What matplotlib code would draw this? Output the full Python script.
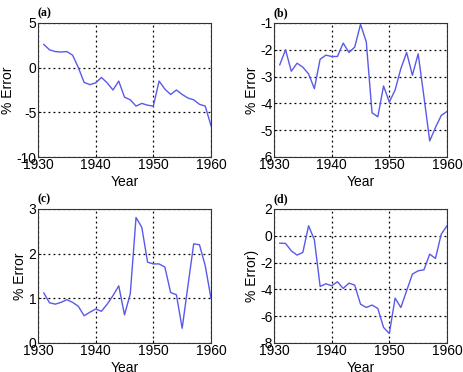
import matplotlib
matplotlib.use("Agg")
import matplotlib.pyplot as plt

years = list(range(1931, 1961))

err_a = [2.6, 2.0, 1.8, 1.75, 1.8, 1.4, 0.0, -1.65, -1.9, -1.7, -1.1, -1.7, -2.5, -1.5, -3.3,
         -3.6, -4.3, -4.0, -4.2, -4.3, -1.5, -2.4, -3.0, -2.5, -3.0, -3.4, -3.6, -4.1, -4.3, -6.5]
err_b = [-2.56, -2.0, -2.8, -2.5, -2.65, -2.9, -3.45, -2.35, -2.2, -2.25, -2.25, -1.75, -2.1, -1.9, -1.05,
         -1.7, -4.35, -4.5, -3.35, -3.95, -3.5, -2.7, -2.1, -2.95, -2.15, -3.75, -5.4, -4.9, -4.45, -4.3]
err_c = [1.12, 0.9, 0.87, 0.91, 0.97, 0.91, 0.82, 0.61, 0.69, 0.76, 0.71, 0.87, 1.06, 1.28, 0.63,
         1.1, 2.81, 2.59, 1.81, 1.77, 1.77, 1.7, 1.13, 1.08, 0.33, 1.28, 2.22, 2.2, 1.73, 1.0]
err_d = [-0.55, -0.57, -1.12, -1.44, -1.24, 0.75, -0.3, -3.78, -3.58, -3.73, -3.43, -3.93, -3.53, -3.68, -5.1,
         -5.35, -5.17, -5.42, -6.84, -7.29, -4.65, -5.35, -4.1, -2.86, -2.61, -2.54, -1.37, -1.69, 0.12, 0.75]

xticks = [1930, 1940, 1950, 1960]
panels = [
    ("(a)", err_a, (-10, 5), [-10, -5, 0, 5], "% Error"),
    ("(b)", err_b, (-6, -1), [-6, -5, -4, -3, -2, -1], "% Error"),
    ("(c)", err_c, (0, 3), [0, 1, 2, 3], "% Error"),
    ("(d)", err_d, (-8, 2), [-8, -6, -4, -2, 0, 2], "% Error)"),
]

plt.rcParams['font.family'] = ['Liberation Sans', 'DejaVu Sans']
plt.rcParams['axes.unicode_minus'] = False
fig = plt.figure(figsize=(4.63, 3.72), dpi=100)

rects = [
    (38 / 463, 1 - 157 / 372, 173 / 463, 134 / 372),
    (274 / 463, 1 - 157 / 372, 173 / 463, 134 / 372),
    (38 / 463, 1 - 343 / 372, 173 / 463, 134 / 372),
    (274 / 463, 1 - 343 / 372, 173 / 463, 134 / 372),
]

for rect, (lab, vals, ylim, yt, ylab) in zip(rects, panels):
    ax = fig.add_axes(rect)
    ax.plot(years, vals, color=(0.35, 0.35, 0.92), lw=1.0)
    ax.set_xlim(1930, 1960)
    ax.set_ylim(*ylim)
    ax.set_xticks(xticks)
    ax.set_yticks(yt)
    ax.tick_params(direction='in', length=2, labelsize=10, pad=1, width=0.6)
    ax.grid(True, color='black', linestyle=(0, (1.5, 2.5)), lw=0.9)
    for s in ax.spines.values():
        s.set_linewidth(0.8)
        s.set_color('#333333')
    ax.set_xlabel("Year", fontsize=10, labelpad=2)
    ax.set_ylabel(ylab, fontsize=10, labelpad=1)
    ax.text(0.0, 1.025, lab, transform=ax.transAxes, fontsize=8.5, fontweight='bold',
            family='Liberation Serif', ha='left', va='bottom')

fig.savefig("out.png", dpi=100)
